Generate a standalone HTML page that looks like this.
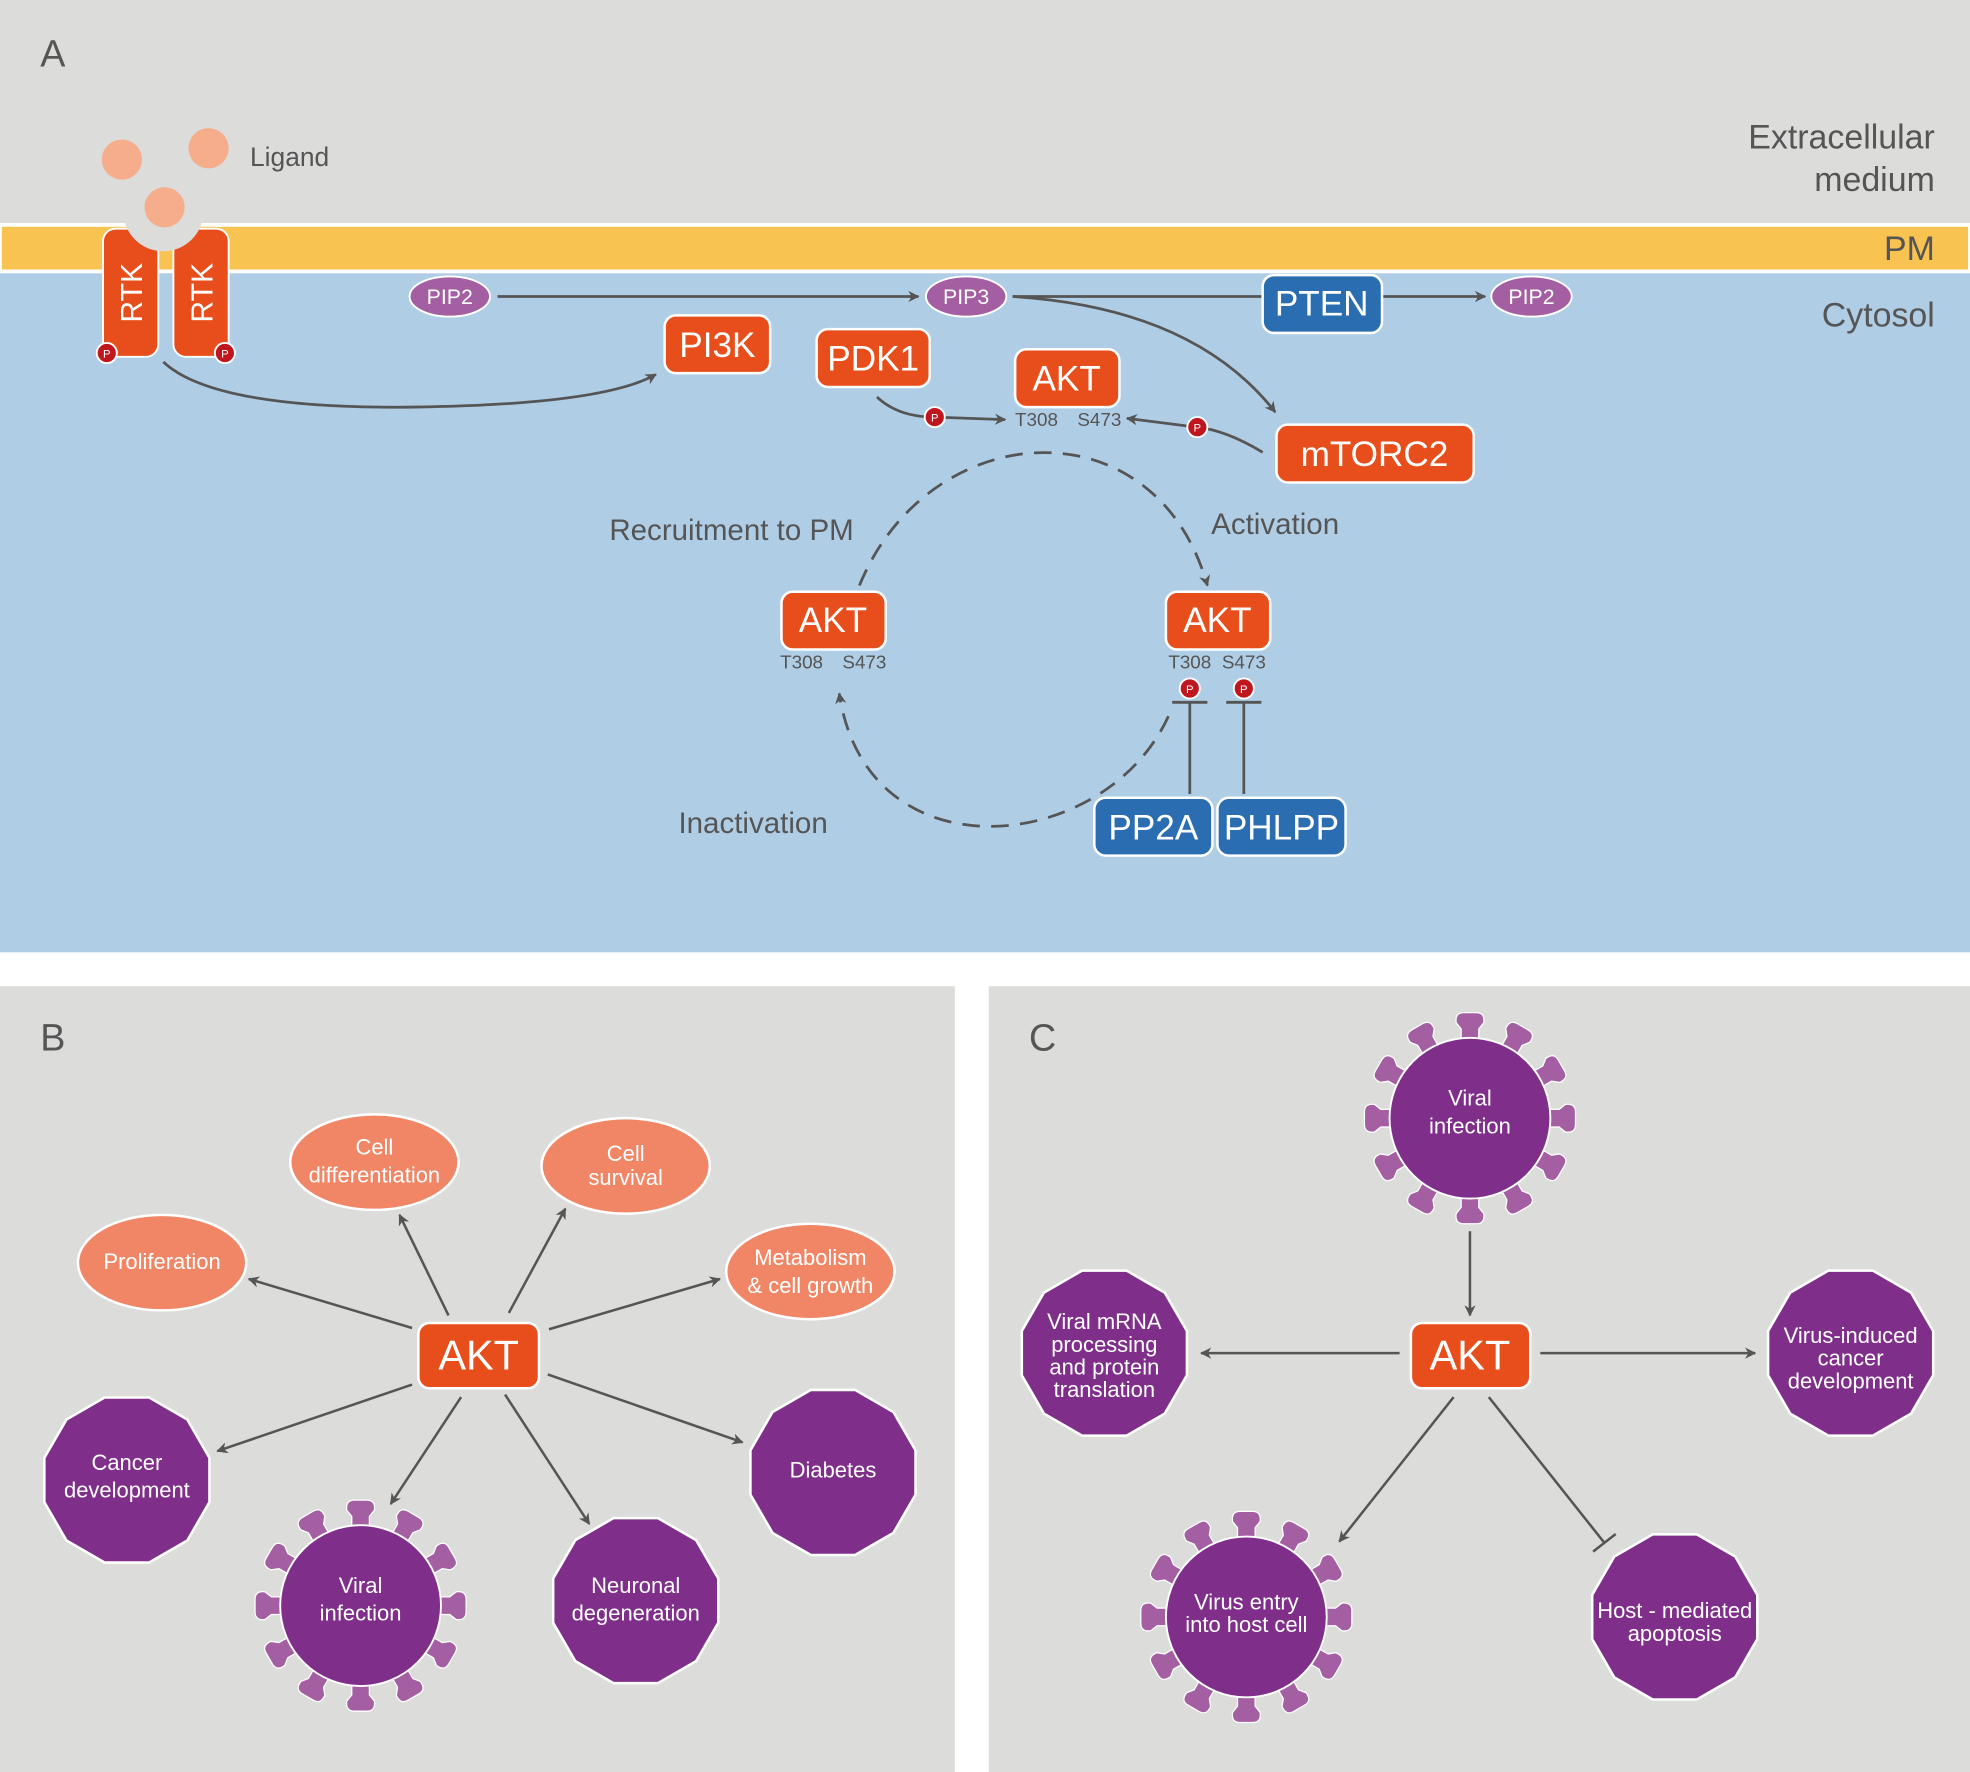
<!DOCTYPE html>
<html><head><meta charset="utf-8"><style>html,body{margin:0;padding:0;background:#fff}svg{display:block}text{font-family:"Liberation Sans",sans-serif}</style></head>
<body>
<svg width="1970" height="1772" viewBox="0 0 1568 1410.4" xmlns="http://www.w3.org/2000/svg">
<defs>
<marker id="ar" viewBox="0 0 10 10" refX="9" refY="5" markerWidth="9" markerHeight="9" orient="auto" markerUnits="userSpaceOnUse"><path d="M0,0 L10,5 L0,10 L3,5Z" fill="#555"/></marker>
<path id="spk" d="M-7,2 L-7,-7 L-11,-12 Q-12,-20 -5,-20 L5,-20 Q12,-20 11,-12 L7,-7 L7,2Z" fill="#a45fa3" stroke="#fff" stroke-width="1"/>
<g id="vir">
<use href="#spk" transform="rotate(0) translate(0,-64)"/><use href="#spk" transform="rotate(30) translate(0,-64)"/><use href="#spk" transform="rotate(60) translate(0,-64)"/><use href="#spk" transform="rotate(90) translate(0,-64)"/><use href="#spk" transform="rotate(120) translate(0,-64)"/><use href="#spk" transform="rotate(150) translate(0,-64)"/><use href="#spk" transform="rotate(180) translate(0,-64)"/><use href="#spk" transform="rotate(210) translate(0,-64)"/><use href="#spk" transform="rotate(240) translate(0,-64)"/><use href="#spk" transform="rotate(270) translate(0,-64)"/><use href="#spk" transform="rotate(300) translate(0,-64)"/><use href="#spk" transform="rotate(330) translate(0,-64)"/>
<circle r="64" fill="#7f2f8a" stroke="#fff" stroke-width="1.5"/>
</g>
<polygon id="oct" points="65.7,17.6 48.1,48.1 17.6,65.7 -17.6,65.7 -48.1,48.1 -65.7,17.6 -65.7,-17.6 -48.1,-48.1 -17.6,-65.7 17.6,-65.7 48.1,-48.1 65.7,-17.6" fill="#7f2f8a" stroke="#fff" stroke-width="2"/>
<g id="P"><circle r="8" fill="#c0171f" stroke="#fff" stroke-width="1.5"/><text y="3.5" font-size="9" fill="#fff" text-anchor="middle">P</text></g>
</defs>

<!-- Panel A -->
<rect x="0" y="0" width="1568" height="758" fill="#b0cde6"/>
<rect x="0" y="0" width="1568" height="179" fill="#dcdcdb"/>
<rect x="0" y="179" width="1568" height="37" fill="#f9c352" stroke="#fff" stroke-width="3"/>
<text x="32" y="53" font-size="30" fill="#555">A</text>
<text x="1540" y="118" font-size="27" fill="#555" text-anchor="end">Extracellular</text>
<text x="1540" y="152" font-size="27" fill="#555" text-anchor="end">medium</text>
<text x="1540" y="207" font-size="27" fill="#555" text-anchor="end">PM</text>
<text x="1540" y="260" font-size="27" fill="#555" text-anchor="end">Cytosol</text>

<!-- RTK -->
<rect x="82" y="182" width="44" height="102" rx="10" fill="#e84e1b" stroke="#fff" stroke-width="1.5"/>
<rect x="138" y="182" width="44" height="102" rx="10" fill="#e84e1b" stroke="#fff" stroke-width="1.5"/>
<circle cx="130" cy="168" r="32" fill="#dcdcdb"/>
<circle cx="97" cy="127" r="16" fill="#f5ad8b"/>
<circle cx="166" cy="118" r="16" fill="#f5ad8b"/>
<circle cx="131" cy="165" r="16" fill="#f5ad8b"/>
<text x="199" y="132" font-size="21" fill="#555">Ligand</text>
<text transform="translate(113,233) rotate(-90)" font-size="24" fill="#fff" text-anchor="middle">RTK</text>
<text transform="translate(169,233) rotate(-90)" font-size="24" fill="#fff" text-anchor="middle">RTK</text>
<use href="#P" x="85" y="281"/><use href="#P" x="179" y="281"/>

<g fill="none" stroke="#555" stroke-width="2.2">
<path d="M130,288 Q170,326 330,324 Q480,322 522,298" marker-end="url(#ar)"/>
<line x1="396" y1="236" x2="731" y2="236" marker-end="url(#ar)"/>
<line x1="806" y1="236" x2="1005" y2="236"/>
<line x1="1100" y1="236" x2="1182" y2="236" marker-end="url(#ar)"/>
<path d="M806,236 Q950,245 1015,328" marker-end="url(#ar)"/>
<path d="M698,316 Q715,332 744,332 L800,334" marker-end="url(#ar)"/>
<path d="M1005,360 Q975,342 952,340 L897,333" marker-end="url(#ar)"/>
<path d="M684,466 C740,330 920,320 961,466" stroke-dasharray="14,9" marker-end="url(#ar)"/>
<path d="M930,570 C880,680 690,700 668,552" stroke-dasharray="14,9" marker-end="url(#ar)"/>
<line x1="947" y1="559" x2="947" y2="632"/><line x1="933" y1="559" x2="961" y2="559"/>
<line x1="990" y1="559" x2="990" y2="632"/><line x1="976" y1="559" x2="1004" y2="559"/>
</g>

<!-- PIPs -->
<g font-size="17" fill="#fff" text-anchor="middle">
<ellipse cx="358" cy="236" rx="32" ry="16" fill="#a45fa3" stroke="#fff" stroke-width="1.5"/><text x="358" y="242">PIP2</text>
<ellipse cx="769" cy="236" rx="32" ry="16" fill="#a45fa3" stroke="#fff" stroke-width="1.5"/><text x="769" y="242">PIP3</text>
<ellipse cx="1219" cy="236" rx="32" ry="16" fill="#a45fa3" stroke="#fff" stroke-width="1.5"/><text x="1219" y="242">PIP2</text>
</g>

<!-- boxes A -->
<g stroke="#fff" stroke-width="2">
<rect x="529" y="251" width="84" height="46" rx="9" fill="#e84e1b"/>
<rect x="650" y="262" width="90" height="46" rx="9" fill="#e84e1b"/>
<rect x="808" y="278" width="83" height="46" rx="9" fill="#e84e1b"/>
<rect x="1016" y="338" width="157" height="46" rx="9" fill="#e84e1b"/>
<rect x="1005" y="219" width="95" height="46" rx="9" fill="#2a6db0"/>
<rect x="622" y="471" width="83" height="46" rx="9" fill="#e84e1b"/>
<rect x="928" y="471" width="83" height="46" rx="9" fill="#e84e1b"/>
<rect x="871" y="635" width="94" height="46" rx="9" fill="#2a6db0"/>
<rect x="969" y="635" width="102" height="46" rx="9" fill="#2a6db0"/>
</g>
<g font-size="28" fill="#fff" text-anchor="middle">
<text x="571" y="284">PI3K</text>
<text x="695" y="295">PDK1</text>
<text x="849" y="311">AKT</text>
<text x="1094" y="371">mTORC2</text>
<text x="1052" y="251">PTEN</text>
<text x="663" y="503">AKT</text>
<text x="969" y="503">AKT</text>
<text x="918" y="668">PP2A</text>
<text x="1020" y="668">PHLPP</text>
</g>
<g font-size="15" fill="#555" text-anchor="middle">
<text x="825" y="339">T308</text><text x="875" y="339">S473</text>
<text x="638" y="532">T308</text><text x="688" y="532">S473</text>
<text x="947" y="532">T308</text><text x="990" y="532">S473</text>
</g>
<use href="#P" x="744" y="332"/><use href="#P" x="953" y="340"/>
<use href="#P" x="947" y="548"/><use href="#P" x="990" y="548"/>
<g font-size="23.5" fill="#555">
<text x="485" y="430">Recruitment to PM</text>
<text x="964" y="425">Activation</text>
<text x="540" y="663">Inactivation</text>
</g>

<!-- Panel B -->
<rect x="0" y="785" width="760" height="626" fill="#dcdcdb"/>
<text x="32" y="836" font-size="30" fill="#555">B</text>
<g fill="none" stroke="#555" stroke-width="2">
<line x1="328" y1="1057" x2="198" y2="1018" marker-end="url(#ar)"/>
<line x1="357" y1="1047" x2="318" y2="967" marker-end="url(#ar)"/>
<line x1="405" y1="1045" x2="450" y2="962" marker-end="url(#ar)"/>
<line x1="437" y1="1058" x2="573" y2="1018" marker-end="url(#ar)"/>
<line x1="328" y1="1102" x2="173" y2="1155" marker-end="url(#ar)"/>
<line x1="367" y1="1112" x2="311" y2="1197" marker-end="url(#ar)"/>
<line x1="402" y1="1110" x2="469" y2="1213" marker-end="url(#ar)"/>
<line x1="436" y1="1094" x2="591" y2="1148" marker-end="url(#ar)"/>
</g>
<g fill="#f08665" stroke="#fff" stroke-width="2">
<ellipse cx="129" cy="1005" rx="67" ry="38"/>
<ellipse cx="298" cy="925" rx="67" ry="38"/>
<ellipse cx="498" cy="928" rx="67" ry="38"/>
<ellipse cx="645" cy="1012" rx="67" ry="38"/>
</g>
<rect x="333" y="1053" width="96" height="52" rx="9" fill="#e84e1b" stroke="#fff" stroke-width="2"/>
<text x="381" y="1090" font-size="33" fill="#fff" text-anchor="middle">AKT</text>
<use href="#oct" x="101" y="1178"/>
<use href="#oct" x="663" y="1172"/>
<use href="#oct" x="506" y="1274"/>
<use href="#vir" x="287" y="1278"/>
<g font-size="17.5" fill="#fff" text-anchor="middle">
<text x="129" y="1010">Proliferation</text>
<text x="298" y="919">Cell</text><text x="298" y="941">differentiation</text>
<text x="498" y="924">Cell</text><text x="498" y="943">survival</text>
<text x="645" y="1007">Metabolism</text><text x="645" y="1029">&amp; cell growth</text>
<text x="101" y="1170">Cancer</text><text x="101" y="1192">development</text>
<text x="663" y="1176">Diabetes</text>
<text x="506" y="1268">Neuronal</text><text x="506" y="1290">degeneration</text>
<text x="287" y="1268">Viral</text><text x="287" y="1290">infection</text>
</g>

<!-- Panel C -->
<rect x="787" y="785" width="781" height="626" fill="#dcdcdb"/>
<text x="819" y="836" font-size="30" fill="#555">C</text>
<g fill="none" stroke="#555" stroke-width="2">
<line x1="1170" y1="980" x2="1170" y2="1047" marker-end="url(#ar)"/>
<line x1="1114" y1="1077" x2="956" y2="1077" marker-end="url(#ar)"/>
<line x1="1226" y1="1077" x2="1397" y2="1077" marker-end="url(#ar)"/>
<line x1="1157" y1="1112" x2="1066" y2="1227" marker-end="url(#ar)"/>
<line x1="1185" y1="1112" x2="1277" y2="1228"/>
<line x1="1268" y1="1235" x2="1286" y2="1221"/>
</g>
<rect x="1123" y="1053" width="95" height="52" rx="9" fill="#e84e1b" stroke="#fff" stroke-width="2"/>
<text x="1170" y="1090" font-size="33" fill="#fff" text-anchor="middle">AKT</text>
<use href="#vir" x="1170" y="890"/>
<use href="#vir" x="992" y="1287"/>
<use href="#oct" x="879" y="1077"/>
<use href="#oct" x="1473" y="1077"/>
<use href="#oct" x="1333" y="1287"/>
<g font-size="17.5" fill="#fff" text-anchor="middle">
<text x="1170" y="880">Viral</text><text x="1170" y="902">infection</text>
<text x="992" y="1281">Virus entry</text><text x="992" y="1299">into host cell</text>
<text x="879" y="1058">Viral mRNA</text><text x="879" y="1076">processing</text><text x="879" y="1094">and protein</text><text x="879" y="1112">translation</text>
<text x="1473" y="1069">Virus-induced</text><text x="1473" y="1087">cancer</text><text x="1473" y="1105">development</text>
<text x="1333" y="1288">Host - mediated</text><text x="1333" y="1306">apoptosis</text>
</g>
</svg>
</body></html>
